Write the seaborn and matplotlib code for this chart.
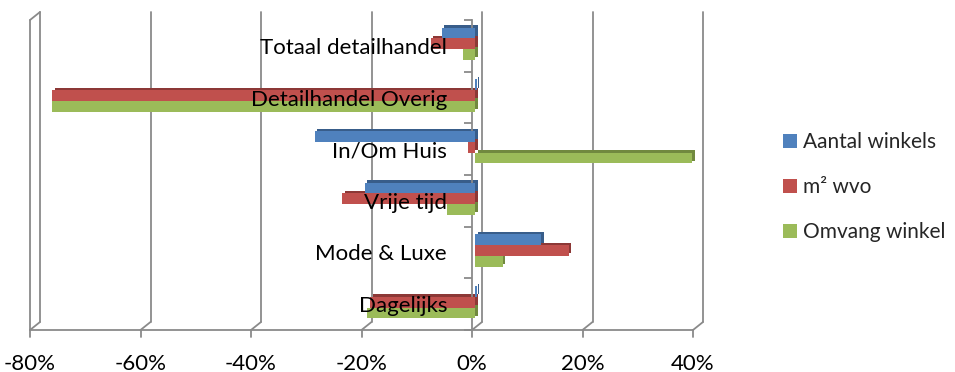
import matplotlib
matplotlib.use("Agg")
import matplotlib.pyplot as plt
import matplotlib.transforms as mtransforms
from matplotlib.patches import Patch, Rectangle
from matplotlib.ticker import FixedLocator, FuncFormatter
import numpy as np
import pandas as pd
import seaborn as sns

# Categories (top to bottom) and the three series, in percent
categorieen = ["Totaal detailhandel", "Detailhandel Overig", "In/Om Huis",
               "Vrije tijd", "Mode & Luxe", "Dagelijks"]
reeksen = ["Aantal winkels", "m² wvo", "Omvang winkel"]
aantal_winkels = [-6.0, 0.3, -29.0, -20.0, 12.0, 0.3]
m2_wvo = [-8.0, -76.5, -1.3, -24.0, 17.0, -19.0]
omvang_winkel = [-2.2, -76.5, 39.3, -5.0, 5.0, -19.5]
x_ticks = [-80, -60, -40, -20, 0, 20, 40]

kleuren = ["#4F81BD", "#C0504D", "#9BBB59"]
donker = ["#385D8A", "#8C3836", "#71893F"]

df = pd.DataFrame({
    "categorie": categorieen * 3,
    "reeks": [r for r in reeksen for _ in categorieen],
    "waarde": aantal_winkels + m2_wvo + omvang_winkel,
})

sns.set_theme(style="white")
plt.rcParams["font.family"] = ["Lato", "DejaVu Sans"]

W, H = 955, 372
fig = plt.figure(figsize=(W / 100, H / 100), dpi=100)
ax = fig.add_axes([30 / W, 42 / H, 663 / W, 310 / H])

sns.barplot(data=df, x="waarde", y="categorie", hue="reeks", order=categorieen,
            hue_order=reeksen, palette=kleuren, orient="h", width=0.62,
            saturation=1, legend=False, ax=ax, edgecolor="none", linewidth=0)

ax.set_xlim(-80, 40)
ax.set_ylim(5.5, -0.5)
ax.set_axisbelow(False)

# 3D look: shift bars slightly into depth and add a darker extruded face behind
shift = mtransforms.ScaledTranslation(3 / 100, 2 / 100, fig.dpi_scale_trans)
depth = mtransforms.ScaledTranslation(5.5 / 100, 4.5 / 100, fig.dpi_scale_trans)
bars = [p for p in ax.patches if isinstance(p, Rectangle)]
n = len(categorieen)
for i, p in enumerate(bars[:3 * n]):
    s = i // n
    x0, y0 = p.get_x(), p.get_y()
    w, h = p.get_width(), p.get_height()
    back = Rectangle((x0, y0), w, h, facecolor=donker[s], edgecolor="none",
                     transform=ax.transData + depth, zorder=0.9, clip_on=False)
    ax.add_patch(back)
    p.set_transform(ax.transData + shift)
    p.set_zorder(1.0)
    p.set_clip_on(False)

# Walls and floor of the chart box
grid_c = "#8A8A8A"
back_off = mtransforms.ScaledTranslation(10 / 100, 8 / 100, fig.dpi_scale_trans)
tb = ax.transData + back_off
for xv in x_ticks:
    ax.plot([xv, xv], [5.5, -0.5], color=grid_c, lw=1.3, transform=tb,
            zorder=0.5, clip_on=False)
    # diagonal from back floor to front floor
    fx, fy = ax.transData.transform((xv, 5.5))
    bx, by = tb.transform((xv, 5.5))
    fig.add_artist(plt.Line2D([fx / W, bx / W], [fy / H, by / H],
                              color=grid_c, lw=1.3, zorder=0.5))
    # small tick below the front floor line
    fig.add_artist(plt.Line2D([fx / W, fx / W], [fy / H, (fy - 7) / H],
                              color=grid_c, lw=1.3))

# front floor line
ax.plot([-80, 40], [5.5, 5.5], color=grid_c, lw=1.3, clip_on=False, zorder=0.6)
# left wall front edge and top edge
ax.plot([-80, -80], [5.5, -0.5], color=grid_c, lw=1.3, clip_on=False, zorder=0.6)
fx, fy = ax.transData.transform((-80, -0.5))
bx, by = tb.transform((-80, -0.5))
fig.add_artist(plt.Line2D([fx / W, bx / W], [fy / H, by / H], color=grid_c, lw=1.3))

# Category axis sits at 0%
for side in ["top", "right", "bottom"]:
    ax.spines[side].set_visible(False)
ax.spines["left"].set_position(("data", 0))
ax.spines["left"].set_color(grid_c)
ax.spines["left"].set_linewidth(1.3)
ax.spines["left"].set_zorder(0.95)

ax.yaxis.set_minor_locator(FixedLocator(np.arange(-0.5, 6.0, 1.0)))
ax.tick_params(axis="y", which="minor", direction="out", length=5.5,
               width=1.3, color=grid_c, left=True)
ax.tick_params(axis="y", which="major", length=0, pad=18, labelsize=16,
               labelcolor="black")

ax.set_xticks(x_ticks)
ax.xaxis.set_major_formatter(FuncFormatter(lambda v, _: f"{int(v)}%"))
ax.tick_params(axis="x", which="major", length=0, pad=17, labelsize=16,
               labelcolor="black")
ax.set_xlabel("")
ax.set_ylabel("")

handles = [Patch(facecolor=c, edgecolor="none") for c in kleuren]
fig.legend(handles, reeksen, loc="center left",
           bbox_to_anchor=(783 / W, (H - 187) / H), frameon=False,
           fontsize=15, handlelength=0.66, handleheight=0.66,
           handletextpad=0.3, labelspacing=1.2, borderpad=0,
           borderaxespad=0)

fig.savefig("out.png", dpi=100)
